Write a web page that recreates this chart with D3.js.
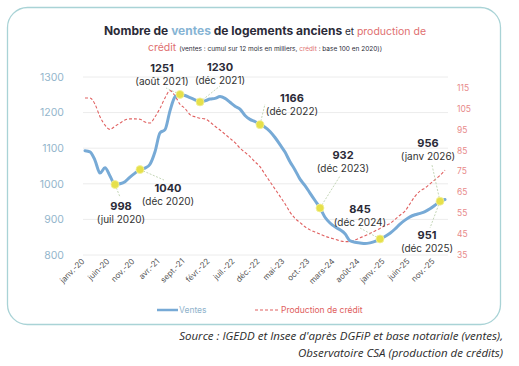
<!DOCTYPE html>
<html><head><meta charset="utf-8">
<script src="https://cdn.jsdelivr.net/npm/d3@7"></script>
<style>body{margin:0;background:#fff;}svg{display:block;}</style>
</head><body><svg id="c" width="519" height="366"></svg>
<script>
const monthNames = ["janv.","févr.","mars","avr.","mai","juin","juil.","août","sept.","oct.","nov.","déc."];
const years = ["20","21","22","23","24","25","26"];
const categories = [];
years.forEach(y => monthNames.forEach(m => { if (categories.length < 73) categories.push(m + "-" + y); }));
const tickLabels = ["janv.-20","juin-20","nov.-20","avr.-21","sept.-21","févr.-22","juil.-22","déc.-22","mai-23","oct.-23","mars-24","août-24","janv.-25","juin-25","nov.-25"];
const leftTicks = [800,900,1000,1100,1200,1300];
const rightTicks = [35,45,55,65,75,85,95,105,115];
const ventes = [1093,1090,1066,1030,1045,1022,998,1000,1006,1019,1030,1040,
  1044,1055,1090,1143,1152,1205,1244,1251,1248,1242,1236,1230,
  1233,1238,1240,1245,1240,1229,1218,1210,1192,1181,1175,1166,
  1159,1147,1130,1110,1089,1062,1039,1013,995,974,953,932,
  906,890,879,871,860,840,836,834,832,834,838,845,
  852,861,873,887,898,907,913,917,922,930,940,951,956];
const credit = [110,110,107,101,97,95,96.5,98,99.5,100,100,99.8,
  98.5,98,101,105,110,113.5,111,107,105,102,101,100.3,
  100,98.5,96.5,94.7,92.7,90.7,88.7,86,84,82,79.5,77.2,
  73.5,70,66.5,63,59.5,55.5,52.5,50.5,48.5,47,46,45,
  44,43.2,42.5,41.8,41.4,41.4,42.2,43.2,44.2,45.3,46.5,47.7,
  49,50,52,54,56,59.5,63,65.5,67,69,71,73,75.5];
// dot: month index of the marker the leader points to
const annotations = [
  {i:6, dot:6, v:"998", d:"(juil 2020)", lx:121, ly:206},
  {i:11, dot:11, v:"1040", d:"(déc 2020)", lx:168, ly:188},
  {i:19, dot:19, v:"1251", d:"(août 2021)", lx:162, ly:68},
  {i:23, dot:23, v:"1230", d:"(déc 2021)", lx:220, ly:67},
  {i:35, dot:35, v:"1166", d:"(déc 2022)", lx:292, ly:98},
  {i:47, dot:47, v:"932", d:"(déc 2023)", lx:343, ly:155},
  {i:59, dot:59, v:"845", d:"(déc 2024)", lx:360, ly:209},
  {i:71, dot:71, v:"951", d:"(déc 2025)", lx:427, ly:235},
  {i:72, dot:71, v:"956", d:"(janv 2026)", lx:428, ly:143}
];
const leaderEnds = [[120,197],[164,180],[166,88],[220,86],[265,104],[340,176],[360,228],[430,228],[432,165]];

const svg = d3.select("#c");
const FONT = "Inter, 'Noto Sans', sans-serif";
svg.append("rect").attr("x",7.5).attr("y",7.5).attr("width",493).attr("height",317)
  .attr("rx",20).attr("fill","none").attr("stroke","#a9d3d6").attr("stroke-width",1.3);

const x = d3.scalePoint(categories, [85,445]);
const yL = d3.scaleLinear([800,1300],[255,77]);
const yR = d3.scaleLinear([35,120],[255,77]);

// grid
svg.append("g").selectAll("line").data(leftTicks).join("line")
  .attr("x1",83).attr("x2",448).attr("y1",d=>yL(d)).attr("y2",d=>yL(d))
  .attr("stroke","#ececec").attr("stroke-width",1);

// left axis
const gl = svg.append("g").attr("transform","translate(68,0)").call(d3.axisLeft(yL).tickValues(leftTicks).tickFormat(d3.format("d")).tickSize(0).tickPadding(4));
gl.select(".domain").remove();
gl.selectAll("text").attr("fill","#94b6cc").attr("font-size",10.5).attr("font-family",FONT);

// right axis
const gr = svg.append("g").attr("transform","translate(453,0)").call(d3.axisRight(yR).tickValues(rightTicks).tickSize(0).tickPadding(4));
gr.select(".domain").remove();
gr.selectAll("text").attr("fill","#e88a8a").attr("font-size",8.5).attr("font-family",FONT);

// x axis
const gx = svg.append("g").attr("transform","translate(0,258)").call(d3.axisBottom(x).tickValues(tickLabels).tickSize(0).tickPadding(0));
gx.select(".domain").remove();
gx.selectAll("text").attr("fill","#555").attr("font-size",8).attr("font-family",FONT)
  .attr("text-anchor","end").attr("dy","0.3em").attr("transform","rotate(-45) translate(-3,0)");

// credit line
svg.append("path").datum(credit).attr("fill","none").attr("stroke","#e06060").attr("stroke-width",1.1)
  .attr("stroke-dasharray","3,2")
  .attr("d", d3.line().x((d,i)=>x(categories[i])).y(d=>yR(d)).curve(d3.curveMonotoneX));

// ventes line
svg.append("path").datum(ventes).attr("fill","none").attr("stroke","#77aad6").attr("stroke-width",3)
  .attr("stroke-linejoin","round").attr("stroke-linecap","round")
  .attr("d", d3.line().x((d,i)=>x(categories[i])).y(d=>yL(d)).curve(d3.curveMonotoneX));

// leaders
svg.append("g").selectAll("line").data(annotations).join("line")
  .attr("x1",d=>x(categories[d.dot])).attr("y1",d=>yL(ventes[d.dot]))
  .attr("x2",(d,k)=>leaderEnds[k][0]).attr("y2",(d,k)=>leaderEnds[k][1])
  .attr("stroke","#b5cba5").attr("stroke-width",0.8).attr("stroke-dasharray","2,1.5");

// dots
svg.append("g").selectAll("circle").data(annotations.filter(d=>d.dot===d.i)).join("circle")
  .attr("cx",d=>x(categories[d.dot])).attr("cy",d=>yL(ventes[d.dot])).attr("r",4)
  .attr("fill","#e6e04a").attr("stroke","#f3f0a0").attr("stroke-width",0.8);

// labels
const ag = svg.append("g").attr("font-family",FONT).attr("text-anchor","middle");
ag.selectAll("text.v").data(annotations).join("text").attr("class","v")
  .attr("x",d=>d.lx).attr("y",d=>d.ly+4).attr("font-size",11).attr("font-weight",700).attr("fill","#2b2b38").text(d=>d.v);
ag.selectAll("text.d").data(annotations).join("text").attr("class","d")
  .attr("x",d=>d.lx).attr("y",d=>d.ly+17).attr("font-size",10).attr("fill","#333").text(d=>d.d);

// title
const t1 = svg.append("text").attr("x",265).attr("y",35).attr("text-anchor","middle").attr("font-family",FONT);
t1.append("tspan").attr("font-size",12).attr("font-weight",700).attr("fill","#2b2b38").text("Nombre de ");
t1.append("tspan").attr("font-size",12).attr("font-weight",700).attr("fill","#86b4d4").text("ventes");
t1.append("tspan").attr("font-size",12).attr("font-weight",700).attr("fill","#2b2b38").text(" de logements anciens ");
t1.append("tspan").attr("font-size",10).attr("fill","#2b2b38").text("et ");
t1.append("tspan").attr("font-size",10.5).attr("fill","#e07070").text("production de");
const t2 = svg.append("text").attr("x",265).attr("y",51).attr("text-anchor","middle").attr("font-family",FONT);
t2.append("tspan").attr("font-size",10.5).attr("fill","#e07070").text("crédit ");
t2.append("tspan").attr("font-size",6.5).attr("fill","#2b2b38").text("(ventes : cumul sur 12 mois en milliers, ");
t2.append("tspan").attr("font-size",6.5).attr("fill","#e07070").text("crédit");
t2.append("tspan").attr("font-size",6.5).attr("fill","#2b2b38").text(" : base 100 en 2020))");

// legend
svg.append("line").attr("x1",157).attr("x2",178).attr("y1",310).attr("y2",310).attr("stroke","#77aad6").attr("stroke-width",2.5);
svg.append("text").attr("x",179).attr("y",313).attr("font-size",8.5).attr("font-family",FONT).attr("fill","#8fb3cc").text("Ventes");
svg.append("line").attr("x1",255).attr("x2",280).attr("y1",310).attr("y2",310).attr("stroke","#e06060").attr("stroke-width",1.1).attr("stroke-dasharray","3,2");
svg.append("text").attr("x",281).attr("y",313).attr("font-size",8.5).attr("font-family",FONT).attr("fill","#e06060").text("Production de crédit");

// source
const src = svg.append("g").attr("font-family","'Open Sans', sans-serif").attr("font-style","italic").attr("font-size",11.5).attr("fill","#2b2b2b").attr("text-anchor","end");
src.append("text").attr("x",503).attr("y",340).text("Source : IGEDD et Insee d'après DGFiP et base notariale (ventes),");
src.append("text").attr("x",503).attr("y",357).text("Observatoire CSA (production de crédits)");
</script></body></html>
